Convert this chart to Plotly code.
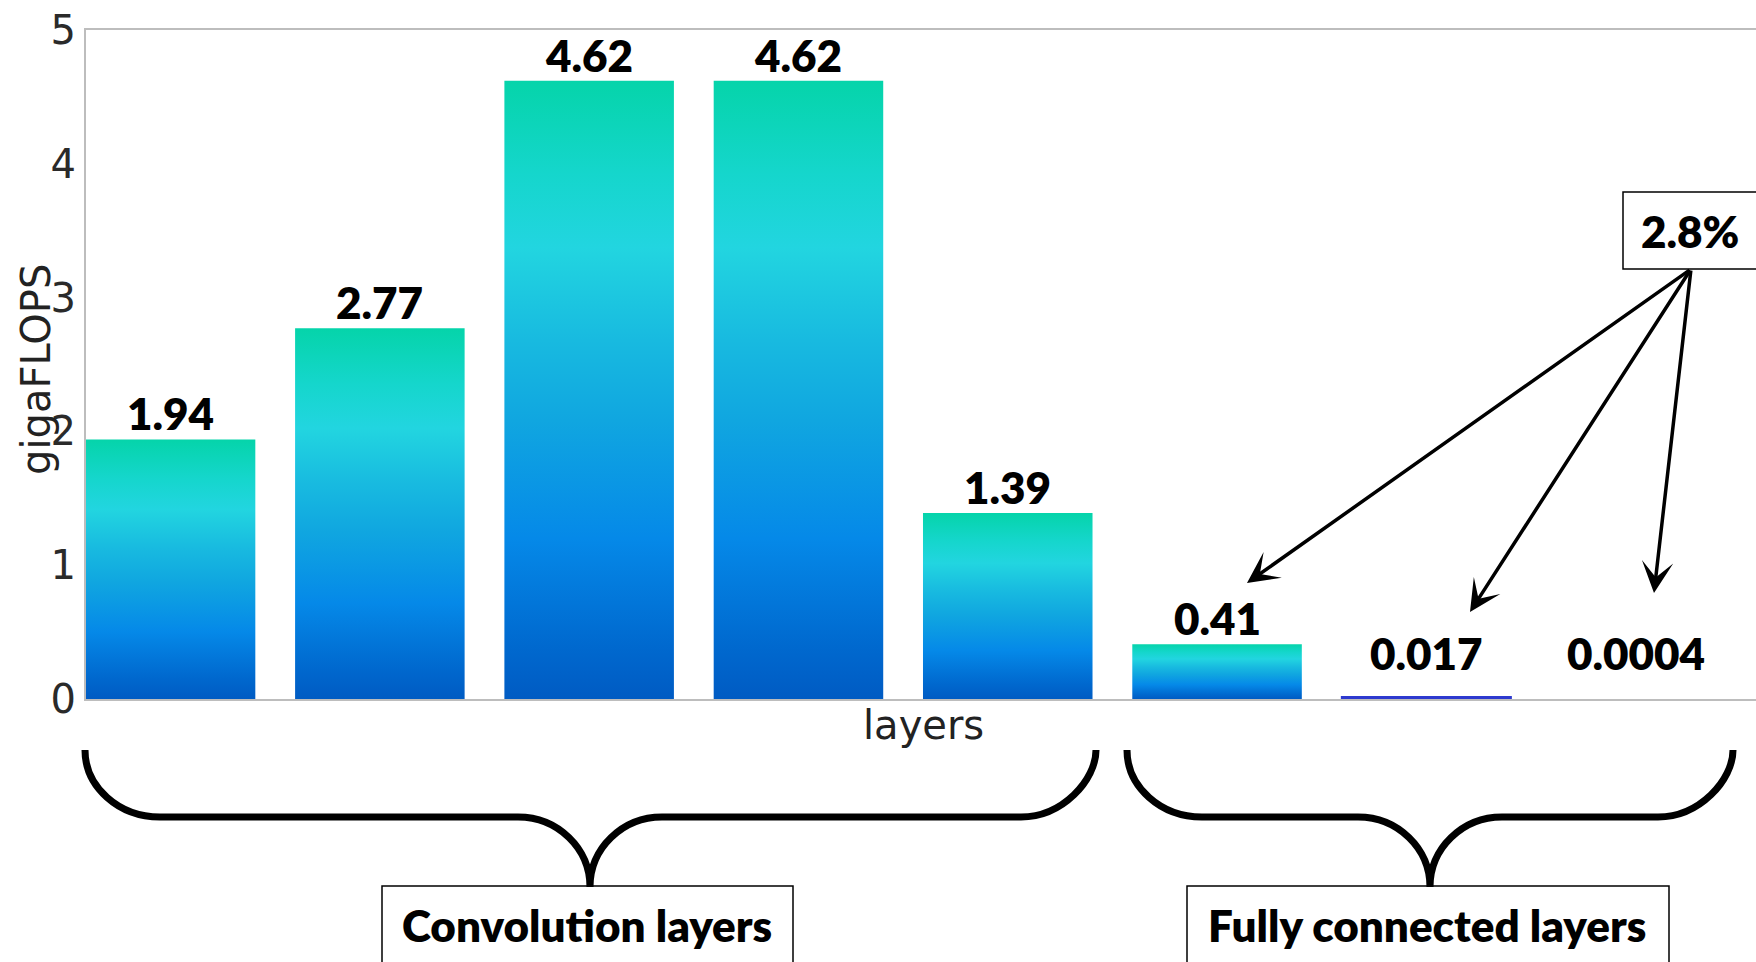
import plotly.graph_objects as go

# Per-layer compute cost (gigaFLOPS)
gflops = [1.94, 2.77, 4.62, 4.62, 1.39, 0.41, 0.017, 0.0004]
value_labels = ["1.94", "2.77", "4.62", "4.62", "1.39", "0.41", "0.017", "0.0004"]
y_ticks = [0, 1, 2, 3, 4, 5]
group_names = ["Convolution layers", "Fully connected layers"]
share_label = "2.8%"

# Canvas / plot-area geometry (pixels)
W, H = 1756, 962
ML, MR, MT, MB = 86, 0, 30, 263
PW, PH = W - ML - MR, H - MT - MB
BASE = H - MB


def px(x):
    return (x - ML) / PW


def py(y):
    return (BASE - y) / PH


BAR_W = 0.81
GRADIENT = [
    [0.0, "#005BC3"], [0.08, "#0068CE"], [0.26, "#0589E8"], [0.45, "#10A6E0"],
    [0.58, "#18BAE0"], [0.73, "#22D5E0"], [0.85, "#15D6CC"], [1.0, "#05D4AA"],
]

fig = go.Figure()

# Each bar is a filled rectangle with a vertical colour gradient
for i, v in enumerate(gflops):
    xs = [i - BAR_W / 2, i + BAR_W / 2, i + BAR_W / 2, i - BAR_W / 2, i - BAR_W / 2]
    ys = [0, 0, v, v, 0]
    tr = dict(x=xs, y=ys, mode="lines", fill="toself", hoverinfo="skip", showlegend=False)
    if v * 100 < 5:
        # hairline-height bars: solid fill with a thin outline so they stay visible
        tr["fillcolor"] = "#2E3ACF"
        tr["line"] = dict(width=1.5, color="#2E3ACF") if v * 1000 > 1 else dict(width=0)
    else:
        tr["line"] = dict(width=0)
        tr["fillcolor"] = "#0A8AE8"
        tr["fillgradient"] = dict(type="vertical", colorscale=GRADIENT)
    fig.add_trace(go.Scatter(**tr))

label_font = dict(family="Lato", size=44, color="black", weight=800)
annotations = []
for i, (v, t) in enumerate(zip(gflops, value_labels)):
    annotations.append(dict(x=i, y=max(v, 0.15), xref="x", yref="y", text=t,
                            showarrow=False, xanchor="center", yanchor="bottom",
                            yshift=-2, font=label_font))


def note(x, y, text, font, **kw):
    d = dict(x=px(x), y=py(y), xref="paper", yref="paper", text=text, showarrow=False,
             xanchor="center", yanchor="middle", font=font)
    d.update(kw)
    return d


# Axis titles
annotations.append(note(923, 725, "layers",
                        dict(family="DejaVu Sans", size=40, color="#222222")))
annotations.append(note(36, 370, "gigaFLOPS",
                        dict(family="DejaVu Sans", size=40, color="#222222"), textangle=-90))

# Share box and arrows to the fully connected layers
annotations.append(note(1690, 231, share_label, label_font))
tail = (1691, 269)
for hx, hy in [(1247, 583), (1470, 612), (1654, 593)]:
    annotations.append(dict(x=px(hx), y=py(hy), xref="paper", yref="paper", text="",
                            showarrow=True, arrowhead=3, arrowsize=1.5, arrowwidth=3.5,
                            arrowcolor="black", ax=tail[0] - hx, ay=tail[1] - hy,
                            standoff=0, startstandoff=0))

# Group captions
box_font = dict(family="Lato", size=44, color="black", weight=800)
annotations.append(note(587, 925, group_names[0], box_font))
annotations.append(note(1427, 925, group_names[1], box_font))


def brace(xl, xr, xm, y0=750, y1=817, y2=887, r=75, r2=72, k=0.5523):
    pts = [
        f"M{px(xl)},{py(y0)}",
        f"C{px(xl)},{py(y0 + k * (y1 - y0))} {px(xl + r - k * r)},{py(y1)} {px(xl + r)},{py(y1)}",
        f"L{px(xm - r2)},{py(y1)}",
        f"C{px(xm - r2 + k * r2)},{py(y1)} {px(xm)},{py(y2 - k * (y2 - y1))} {px(xm)},{py(y2)}",
        f"C{px(xm)},{py(y2 - k * (y2 - y1))} {px(xm + r2 - k * r2)},{py(y1)} {px(xm + r2)},{py(y1)}",
        f"L{px(xr - r)},{py(y1)}",
        f"C{px(xr - r + k * r)},{py(y1)} {px(xr)},{py(y1 - k * (y1 - y0))} {px(xr)},{py(y0)}",
    ]
    return " ".join(pts)


shapes = [
    dict(type="path", xref="paper", yref="paper", path=brace(85, 1096, 590),
         line=dict(color="black", width=7)),
    dict(type="path", xref="paper", yref="paper", path=brace(1127, 1733, 1430),
         line=dict(color="black", width=7)),
    dict(type="rect", xref="paper", yref="paper", x0=px(382), x1=px(793), y0=py(886), y1=py(990),
         line=dict(color="black", width=1.5)),
    dict(type="rect", xref="paper", yref="paper", x0=px(1187), x1=px(1669), y0=py(886), y1=py(990),
         line=dict(color="black", width=1.5)),
    dict(type="rect", xref="paper", yref="paper", x0=px(1623), x1=px(1770), y0=py(192), y1=py(269),
         line=dict(color="black", width=1.5)),
]

fig.update_layout(
    width=W, height=H,
    margin=dict(l=ML, r=MR, t=MT, b=MB),
    paper_bgcolor="white", plot_bgcolor="white",
    showlegend=False,
    annotations=annotations,
    shapes=shapes,
    xaxis=dict(range=[-0.404, 7.575], showticklabels=False, showgrid=False, zeroline=False,
               showline=True, linecolor="#bdbdbd", linewidth=2, mirror=True, ticks=""),
    yaxis=dict(range=[0, 5], tickvals=y_ticks, showgrid=False, zeroline=False,
               showline=True, linecolor="#bdbdbd", linewidth=2, ticks="",
               tickfont=dict(family="DejaVu Sans", size=40, color="#2a2a2a")),
)

fig.write_html("out.html")
